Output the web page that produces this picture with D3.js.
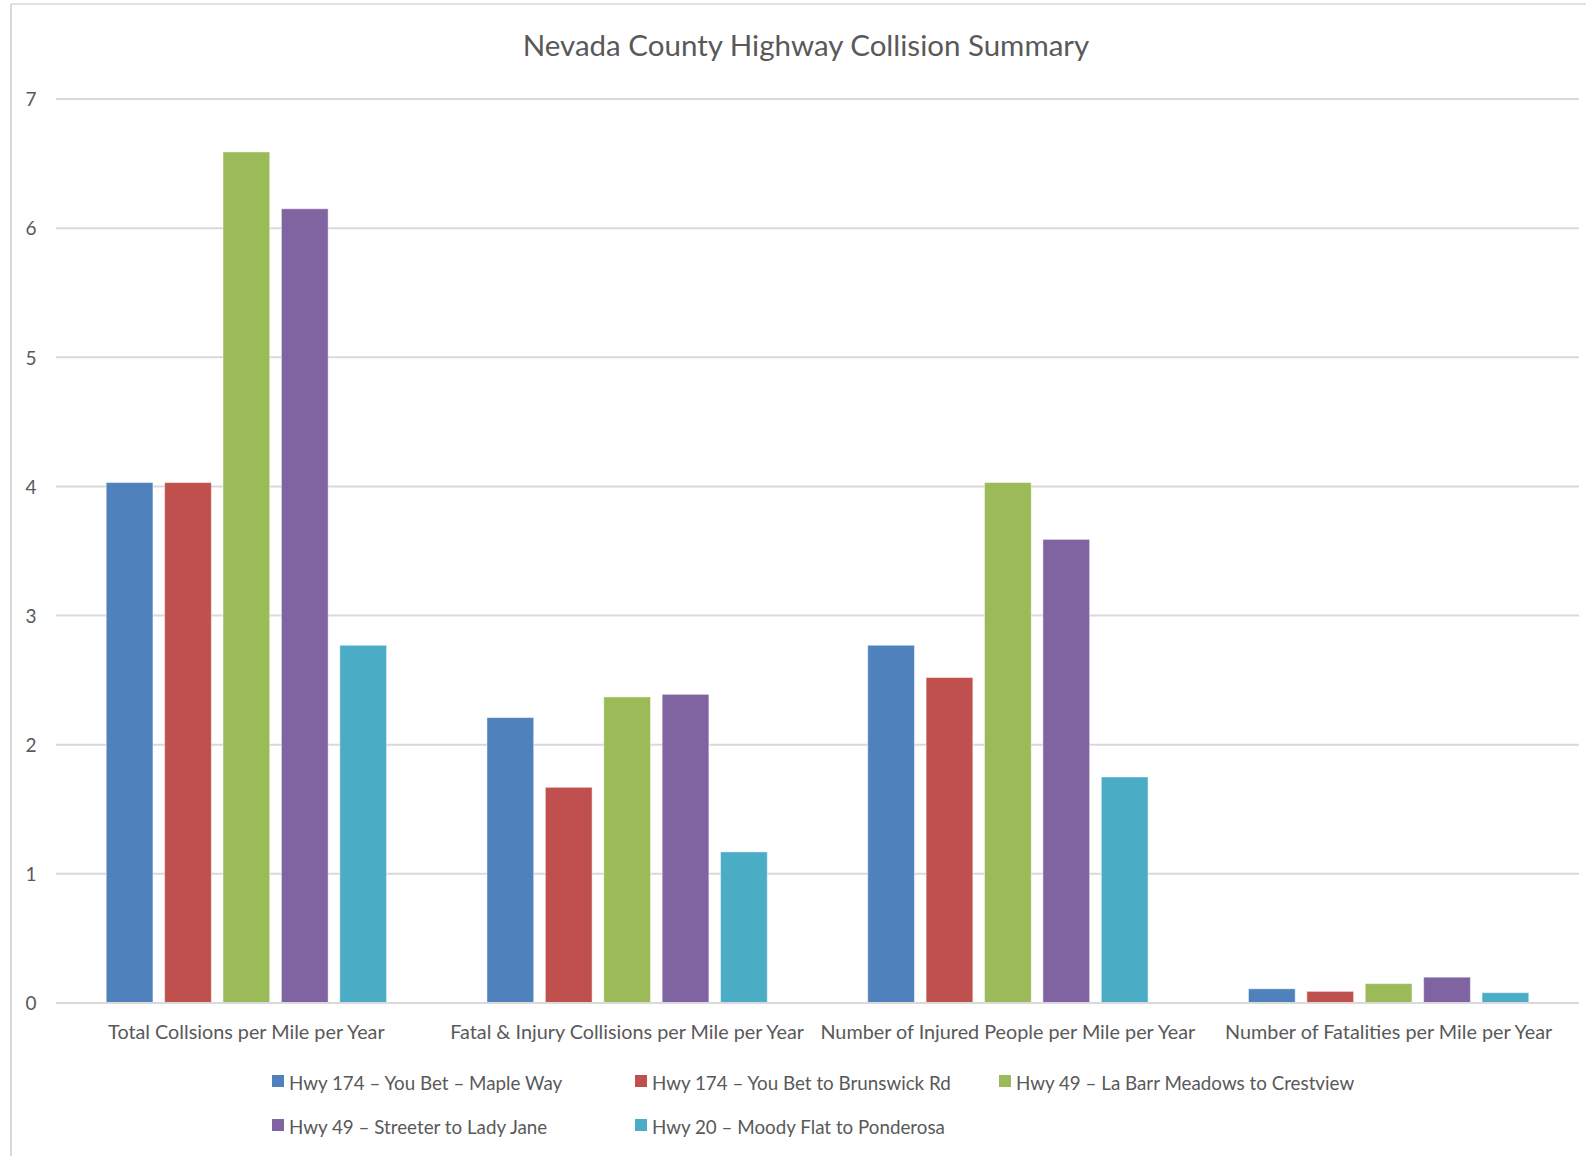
<!DOCTYPE html>
<html>
<head>
<meta charset="utf-8">
<script src="https://cdn.jsdelivr.net/npm/d3@7"></script>
<style>
  body{margin:0;background:#fff;}
  svg text{font-family:Lato,"Open Sans",sans-serif;fill:#595959;}
</style>
</head>
<body>
<div id="chart"></div>
<script>
// chart data
const categories=["Total Collsions per Mile per Year","Fatal & Injury Collisions per Mile per Year","Number of Injured People per Mile per Year","Number of Fatalities per Mile per Year"];
const seriesNames=["Hwy 174 – You Bet – Maple Way","Hwy 174 – You Bet to Brunswick Rd","Hwy 49 – La Barr Meadows to Crestview","Hwy 49 – Streeter to Lady Jane","Hwy 20 – Moody Flat to Ponderosa"];
const seriesColors=["#4F81BD","#C0504D","#9BBB59","#8064A2","#4BACC6"];
const hwy174Maple=[4.03,2.21,2.77,0.11];
const hwy174Brunswick=[4.03,1.67,2.52,0.09];
const hwy49LaBarr=[6.59,2.37,4.03,0.15];
const hwy49Streeter=[6.15,2.39,3.59,0.20];
const hwy20Moody=[2.77,1.17,1.75,0.08];
const seriesValues=[hwy174Maple,hwy174Brunswick,hwy49LaBarr,hwy49Streeter,hwy20Moody];
const yTicks=[0,1,2,3,4,5,6,7];

(function(){
    let W=1586,H=1156;
    let margin={top:99,left:56,right:7,bottom:153};
    let svg=d3.select("#chart").append("svg").attr("width",W).attr("height",H);

    //chart frame (left and top edge only visible)
    svg.append("line").attr("x1",11).attr("x2",11).attr("y1",4).attr("y2",H)
        .attr("stroke","#D9D9D9").attr("stroke-width",2);
    svg.append("line").attr("x1",11).attr("x2",W).attr("y1",4).attr("y2",4)
        .attr("stroke","#D9D9D9").attr("stroke-width",1.5);

    let x0=d3.scaleBand().domain(categories).range([margin.left,W-margin.right]);
    let x1=d3.scaleBand().domain(seriesNames).range([0,x0.bandwidth()])
        .paddingInner(0.2).paddingOuter(0.86);
    let y=d3.scaleLinear().domain([0,7]).range([H-margin.bottom,margin.top]);

    //gridlines
    svg.append("g").selectAll("line").data(yTicks).enter().append("line")
        .attr("x1",margin.left).attr("x2",W-margin.right)
        .attr("y1",d=>y(d)).attr("y2",d=>y(d))
        .attr("stroke","#D9D9D9").attr("stroke-width",2);

    let ya=svg.append("g").attr("transform","translate(31,0)")
        .call(d3.axisLeft(y).tickValues(yTicks).tickFormat(d3.format("d")).tickSize(0).tickPadding(0));
    ya.select(".domain").remove();
    ya.selectAll("text").style("font-size","19px").attr("fill","#595959")
        .attr("text-anchor","middle").attr("dy","0.36em");

    //bars
    seriesNames.forEach(function(name,si){
        svg.append("g").selectAll("rect").data(seriesValues[si]).enter().append("rect")
            .attr("x",(d,i)=>x0(categories[i])+x1(name))
            .attr("width",x1.bandwidth())
            .attr("y",d=>y(d))
            .attr("height",d=>y(0)-y(d))
            .attr("fill",seriesColors[si])
            .attr("stroke","#ffffff").attr("stroke-opacity",0.45).attr("stroke-width",1);
    });

    //zero line on top
    svg.append("line").attr("x1",margin.left).attr("x2",W-margin.right)
        .attr("y1",y(0)).attr("y2",y(0)).attr("stroke","#D9D9D9").attr("stroke-width",2);

    //category labels
    svg.append("g").selectAll("text").data(categories).enter().append("text")
        .attr("x",d=>x0(d)+x0.bandwidth()/2).attr("y",1039)
        .attr("text-anchor","middle").style("font-size","19.8px").text(d=>d);

    //title
    svg.append("text").attr("x",806).attr("y",56).attr("text-anchor","middle")
        .style("font-size","29.5px").text("Nevada County Highway Collision Summary");

    //legend
    let legX=[272,635,999];
    let leg=svg.append("g");
    seriesNames.forEach(function(name,i){
        let lx=legX[i%3],ly=i<3?1075:1119;
        leg.append("rect").attr("x",lx).attr("y",ly).attr("width",12).attr("height",12)
            .attr("fill",seriesColors[i]);
        leg.append("text").attr("x",lx+17).attr("y",ly+15).style("font-size","18.8px").text(name);
    });
})();
</script>
</body>
</html>
